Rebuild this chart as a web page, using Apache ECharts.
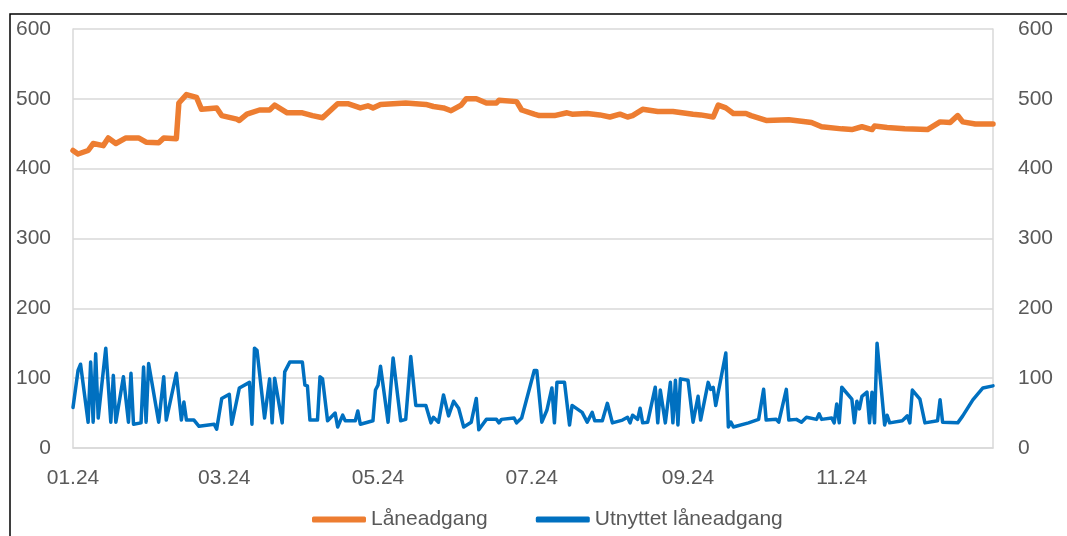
<!DOCTYPE html>
<html>
<head>
<meta charset="utf-8">
<title>Låneadgang</title>
<script src="https://cdn.jsdelivr.net/npm/echarts@6/dist/echarts.min.js"></script>
<style>
  html, body { margin: 0; padding: 0; background: #fff; }
  #chart { width: 1067px; height: 536px; }
</style>
</head>
<body>
<div id="chart"></div>
<script>
// days counted from 1 Jan 2024
var orangeDays = [0, 2, 6, 8, 12, 14, 17, 21, 26, 29, 34, 36, 41, 42, 45, 49, 51, 57, 59, 65, 66, 69, 74, 78, 80, 85,
    91, 95, 99, 105, 109, 114, 117, 119, 122, 132, 140, 143, 147, 150, 154, 156, 160, 164, 168, 169, 176, 178, 183,
    185, 191, 196, 198, 204, 209, 213, 217, 220, 222, 226, 232, 238, 246, 249, 254, 256, 259, 262, 267, 269, 275,
    284, 289, 293, 297, 305, 309, 313, 317, 318, 323, 330, 339, 344, 348, 351, 353, 358, 365];
var orangeVals = [426, 421, 426, 436, 433, 444, 436, 444, 444, 438, 437, 444, 443, 494, 506, 502, 485, 487, 476, 471,
    469, 478, 484, 484, 491, 480, 480, 476, 473, 493, 493, 487, 490, 487, 492, 494, 492, 489, 487, 483, 491, 500,
    500, 494, 494, 498, 496, 484, 478, 476, 476, 480, 478, 479, 477, 474, 478, 474, 476, 485, 482, 482, 478, 477,
    474, 491, 487, 479, 479, 476, 469, 470, 468, 466, 460, 457, 456, 460, 456, 461, 459, 457, 456, 467, 466, 476,
    467, 464, 464];

var blueDays = [0, 2, 3, 6, 7, 8, 9, 10, 13, 15, 16, 17, 20, 22, 23, 24, 27, 28, 29, 30, 34, 36, 37, 41, 43, 44, 45,
    48, 50, 56, 57, 59, 62, 63, 66, 70, 71, 72, 73, 76, 78, 79, 80, 83, 84, 86, 91, 92, 93, 94, 97, 98, 99, 101,
    104, 105, 107, 108, 112, 113, 114, 119, 120, 121, 122, 125, 127, 130, 132, 134, 136, 140, 142, 143, 145, 147,
    149, 151, 153, 155, 158, 160, 161, 164, 168, 169, 170, 175, 176, 178, 183, 184, 186, 188, 190, 191, 192, 195,
    197, 198, 202, 204, 206, 207, 210, 212, 214, 218, 220, 221, 222, 224, 225, 226, 228, 231, 232, 233, 235, 237,
    238, 239, 240, 241, 244, 246, 248, 249, 252, 253, 254, 255, 259, 260, 261, 262, 268, 272, 274, 275, 279, 280,
    283, 284, 287, 289, 291, 295, 296, 297, 301, 302, 303, 304, 305, 309, 310, 311, 312, 313, 315, 316, 317, 318,
    319, 322, 323, 324, 329, 331, 332, 333, 336, 338, 343, 344, 345, 351, 353, 357, 361, 365];
var blueVals = [58, 111, 120, 37, 123, 37, 135, 43, 143, 37, 104, 37, 102, 37, 107, 34, 36, 116, 37, 121, 37, 102,
    40, 107, 40, 66, 40, 40, 31, 34, 27, 71, 77, 34, 86, 94, 34, 143, 140, 43, 99, 36, 100, 36, 109, 123, 123, 90,
    89, 40, 40, 102, 99, 39, 50, 30, 47, 39, 39, 53, 34, 39, 83, 90, 117, 37, 129, 39, 41, 131, 61, 61, 36, 44, 37,
    76, 46, 67, 57, 30, 37, 71, 26, 41, 41, 36, 41, 43, 36, 43, 111, 111, 37, 54, 86, 36, 94, 94, 33, 61, 51, 37,
    51, 39, 39, 64, 36, 40, 44, 36, 47, 41, 57, 36, 37, 87, 36, 83, 36, 94, 36, 97, 33, 99, 97, 37, 74, 40, 94, 84,
    87, 61, 136, 30, 37, 30, 36, 41, 84, 40, 41, 37, 84, 40, 41, 37, 44, 41, 49, 41, 43, 36, 63, 36, 87, 70, 36,
    67, 56, 74, 80, 36, 80, 36, 150, 33, 47, 36, 39, 46, 36, 83, 70, 36, 39, 69, 37, 36, 46, 69, 86, 89];

var seriesNames = ['Låneadgang', 'Utnyttet låneadgang'];
var monthLabels = ['01.24', '03.24', '05.24', '07.24', '09.24', '11.24'];
var monthStartDays = [0, 60, 121, 182, 244, 305];
var yTicks = [0, 100, 200, 300, 400, 500, 600];

function toPairs(days, vals) {
    return days.map(function (d, i) { return [d, vals[i]]; });
}

var font = "'Liberation Sans', Arial, sans-serif";
var gridColor = '#d9d9d9';
var textColor = '#595959';

var chart = echarts.init(document.getElementById('chart'));

var option = {
    animation: false,
    textStyle: { fontFamily: font },
    graphic: [{
        type: 'rect',
        shape: { x: 10, y: 14, width: 1200, height: 700 },
        style: { fill: 'none', stroke: '#000', lineWidth: 1.5 },
        silent: true
    }],
    grid: {
        left: 73,
        right: 74,
        top: 29,
        bottom: 88
    },
    legend: {
        bottom: 1,
        left: 307,
        itemWidth: 54,
        itemHeight: 6,
        itemGap: 48,
        icon: 'roundRect',
        textStyle: { fontSize: 21, color: textColor, fontFamily: font },
        data: seriesNames
    },
    xAxis: {
        type: 'value',
        min: 0,
        max: 365,
        axisLine: { show: true, onZero: false, lineStyle: { color: gridColor, width: 1.5 } },
        axisTick: { show: false },
        splitLine: { show: false },
        axisLabel: {
            customValues: monthStartDays,
            fontSize: 21,
            color: textColor,
            margin: 20,
            formatter: function (v) {
                var i = monthStartDays.indexOf(v);
                return i >= 0 ? monthLabels[i] : '';
            }
        }
    },
    yAxis: [{
        type: 'value',
        min: yTicks[0],
        max: yTicks[yTicks.length - 1],
        interval: 100,
        axisLine: { show: true, lineStyle: { color: gridColor, width: 1.5 } },
        axisTick: { show: false },
        splitLine: { lineStyle: { color: gridColor, width: 1.5 } },
        axisLabel: { fontSize: 21, color: textColor, margin: 22 }
    }, {
        type: 'value',
        min: yTicks[0],
        max: yTicks[yTicks.length - 1],
        interval: 100,
        position: 'right',
        axisLine: { show: true, lineStyle: { color: gridColor, width: 1.5 } },
        axisTick: { show: false },
        splitLine: { show: false },
        axisLabel: { fontSize: 21, color: textColor, margin: 25 }
    }],
    series: [{
        name: seriesNames[0],
        type: 'line',
        yAxisIndex: 0,
        showSymbol: false,
        color: '#ed7d31',
        lineStyle: { width: 5.5, color: '#ed7d31', join: 'round', cap: 'round' },
        data: toPairs(orangeDays, orangeVals)
    }, {
        name: seriesNames[1],
        type: 'line',
        yAxisIndex: 1,
        showSymbol: false,
        color: '#0070c0',
        lineStyle: { width: 3.5, color: '#0070c0', join: 'round', cap: 'round' },
        data: toPairs(blueDays, blueVals)
    }]
};

chart.setOption(option);
</script>
</body>
</html>
